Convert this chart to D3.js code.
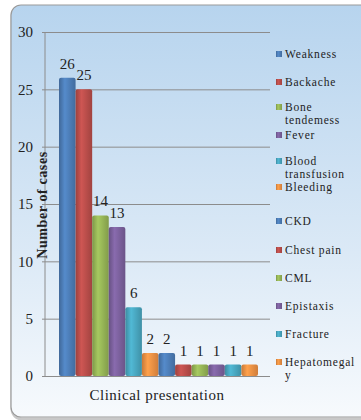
<!DOCTYPE html>
<html><head><meta charset="utf-8">
<script src="https://cdn.jsdelivr.net/npm/d3@7/dist/d3.min.js"></script>
<style>body{margin:0;background:#fff}svg{display:block}
text,tspan{font-family:'Liberation Serif','DejaVu Serif',serif;}</style>
</head><body>
<script>
const categories = ["Weakness","Backache","Bone tenderness","Fever","Blood transfusion","Bleeding","CKD","Chest pain","CML","Epistaxis","Fracture","Hepatomegaly"];
const legendLines = [["Weakness"],["Backache"],["Bone","tendemess"],["Fever"],["Blood","transfusion"],["Bleeding"],["CKD"],["Chest pain"],["CML"],["Epistaxis"],["Fracture"],["Hepatomegal","y"]];
const values = [26,25,14,13,6,2,2,1,1,1,1,1];
const yTicks = [0,5,10,15,20,25,30];
const palette = ["#4F81BD","#C0504D","#9BBB59","#8064A2","#4BACC6","#F79646"];
const FONT="'Liberation Serif','DejaVu Serif',serif";

const W=361,H=420;
const svg=d3.select("body").append("svg").attr("width",W).attr("height",H);
const defs=svg.append("defs");
const bg=defs.append("linearGradient").attr("id","bg").attr("x1",0).attr("y1",0).attr("x2",0).attr("y2",1);
bg.append("stop").attr("offset","0%").attr("stop-color","#b7d4ee");
bg.append("stop").attr("offset","60%").attr("stop-color","#dbe9f6");
bg.append("stop").attr("offset","100%").attr("stop-color","#f7fafd");
palette.forEach((c,i)=>{
  const g=defs.append("linearGradient").attr("id","g"+i).attr("x1",0).attr("y1",0).attr("x2",1).attr("y2",0);
  const col=d3.color(c);
  g.append("stop").attr("offset","0%").attr("stop-color",col.darker(0.6));
  g.append("stop").attr("offset","35%").attr("stop-color",col.brighter(0.2));
  g.append("stop").attr("offset","100%").attr("stop-color",col.darker(0.5));
});

// frame
svg.append("rect").attr("x",12).attr("y",7).attr("width",360).attr("height",412).attr("rx",10)
  .attr("fill","none").attr("stroke","#c8c8c8").attr("stroke-width",3);
svg.append("rect").attr("x",11).attr("y",5).attr("width",360).attr("height",412).attr("rx",10)
  .attr("fill","url(#bg)").attr("stroke","#9a9a9a").attr("stroke-width",1.2);

const x0=59,x1=258,yTop=32,yBot=376;
const x=d3.scaleBand().domain(categories).range([x0,x1]).padding(0);
const y=d3.scaleLinear().domain([0,30]).range([yBot,yTop]);

// grid
const yAxis=d3.axisLeft(y).tickValues(yTicks).tickSize(-(270-45)).tickPadding(12).tickFormat(d3.format("d"));
const ga=svg.append("g").attr("transform","translate(45,0)").call(yAxis);
ga.select(".domain").remove();
ga.selectAll(".tick line").attr("stroke","#8c8c8c").attr("stroke-width",1).attr("x1",-3);
ga.selectAll(".tick text").attr("font-family",FONT).attr("font-size",15).attr("fill","#222");
svg.append("line").attr("x1",45).attr("x2",45).attr("y1",yTop).attr("y2",yBot).attr("stroke","#8c8c8c");

// bars
svg.append("g").selectAll("rect").data(values).join("rect")
  .attr("x",(d,i)=>x(categories[i])).attr("width",x.bandwidth())
  .attr("y",d=>y(d)).attr("height",d=>yBot-y(d)).attr("rx",2)
  .attr("fill",(d,i)=>"url(#g"+(i%6)+")");

// labels
svg.append("g").selectAll("text").data(values).join("text")
  .attr("x",(d,i)=>x(categories[i])+x.bandwidth()/2)
  .attr("y",d=>y(d)-9)
  .attr("text-anchor","middle").attr("font-family",FONT).attr("font-size",15).attr("fill","#222")
  .text(d=>d);

// axis titles
svg.append("text").attr("transform","translate(47,205) rotate(-90)").attr("text-anchor","middle")
  .attr("font-family",FONT).attr("font-size",14).attr("font-weight","bold").attr("letter-spacing",0.6).attr("fill","#222")
  .text("Number of cases");
svg.append("text").attr("x",157).attr("y",400).attr("text-anchor","middle")
  .attr("font-family",FONT).attr("font-size",15).attr("letter-spacing",0.5).attr("fill","#222")
  .text("Clinical presentation");

// legend
const legY=[55,83,108,136,162,188,222,251,279,307,335,363];
const lg=svg.append("g").selectAll("g").data(categories).join("g")
  .attr("transform",(d,i)=>`translate(276,${legY[i]})`);
lg.append("rect").attr("x",0).attr("y",-4).attr("width",6).attr("height",6)
  .attr("fill",(d,i)=>"url(#g"+(i%6)+")");
lg.append("text").attr("x",9).attr("y",3).attr("font-family",FONT).attr("font-size",11.5).attr("letter-spacing",0.8).attr("fill","#222")
  .each(function(d,i){
    const t=d3.select(this);
    legendLines[i].forEach((s,j)=>t.append("tspan").attr("x",9).attr("dy",j?13:0).text(s));
  });
</script>
</body></html>
